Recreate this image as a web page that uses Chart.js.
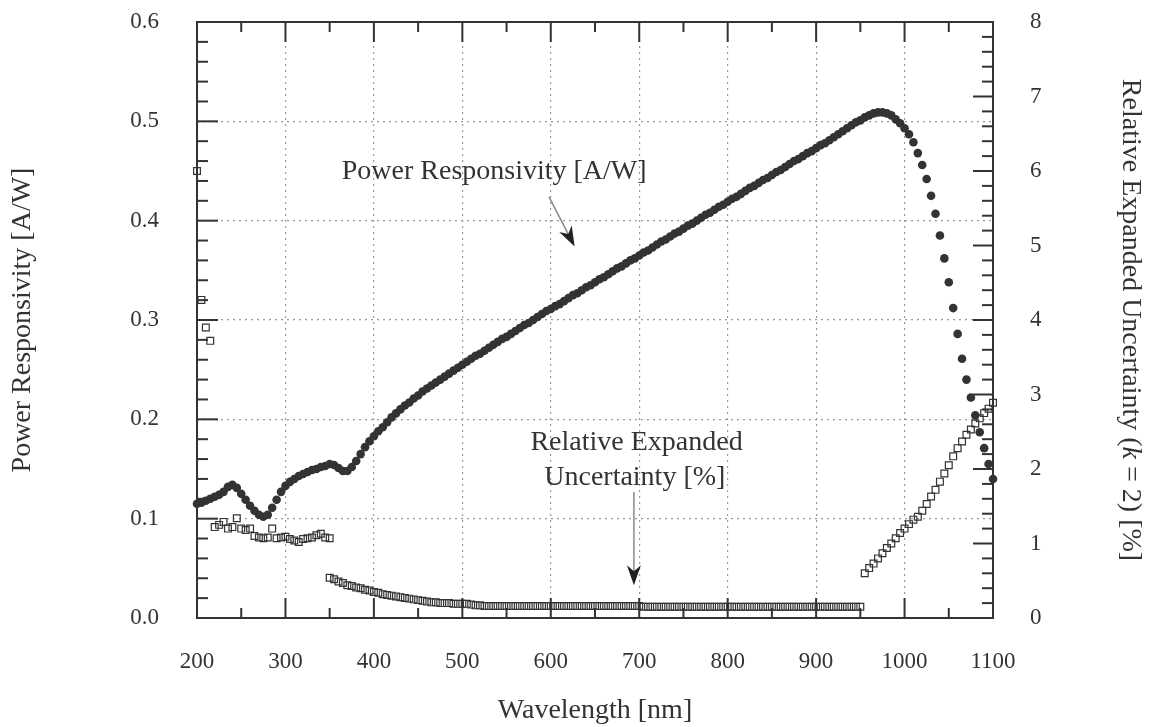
<!DOCTYPE html>
<html>
<head>
<meta charset="utf-8">
<script src="https://cdn.jsdelivr.net/npm/chart.js@4.4.1/dist/chart.umd.min.js"></script>
<style>
  html, body { margin: 0; padding: 0; background: #fff; }
  #wrap { width: 1155px; height: 727px; }
</style>
</head>
<body>
<div id="wrap"><canvas id="chart" width="1155" height="727"></canvas></div>
<script>
// wavelengths [nm] for the responsivity dots
const respWavelengths = [
  200, 205, 210, 215, 220, 225, 230, 235, 240, 245, 250, 255, 260, 265, 270, 275, 280, 285, 290, 295,
  300, 305, 310, 315, 320, 325, 330, 335, 340, 345, 350, 355, 360, 365, 370, 375, 380, 385, 390, 395,
  400, 405, 410, 415, 420, 425, 430, 435, 440, 445, 450, 455, 460, 465, 470, 475, 480, 485, 490, 495,
  500, 505, 510, 515, 520, 525, 530, 535, 540, 545, 550, 555, 560, 565, 570, 575, 580, 585, 590, 595,
  600, 605, 610, 615, 620, 625, 630, 635, 640, 645, 650, 655, 660, 665, 670, 675, 680, 685, 690, 695,
  700, 705, 710, 715, 720, 725, 730, 735, 740, 745, 750, 755, 760, 765, 770, 775, 780, 785, 790, 795,
  800, 805, 810, 815, 820, 825, 830, 835, 840, 845, 850, 855, 860, 865, 870, 875, 880, 885, 890, 895,
  900, 905, 910, 915, 920, 925, 930, 935, 940, 945, 950, 955, 960, 965, 970, 975, 980, 985, 990, 995,
  1000, 1005, 1010, 1015, 1020, 1025, 1030, 1035, 1040, 1045, 1050, 1055, 1060, 1065, 1070, 1075, 1080, 1085, 1090, 1095,
  1100
];
// power responsivity [A/W]
const responsivity = [
  0.115, 0.116, 0.118, 0.120, 0.122, 0.124, 0.127, 0.132, 0.134, 0.131, 0.125, 0.119, 0.113, 0.108, 0.104, 0.102, 0.104, 0.111, 0.119, 0.127,
  0.133, 0.137, 0.140, 0.143, 0.145, 0.147, 0.149, 0.150, 0.152, 0.153, 0.155, 0.154, 0.151, 0.148, 0.148, 0.152, 0.158, 0.165, 0.172, 0.178,
  0.183, 0.188, 0.192, 0.197, 0.202, 0.206, 0.210, 0.214, 0.217, 0.221, 0.224, 0.228, 0.231, 0.234, 0.237, 0.240, 0.243, 0.246, 0.249, 0.252,
  0.255, 0.258, 0.261, 0.264, 0.266, 0.269, 0.272, 0.275, 0.278, 0.281, 0.283, 0.286, 0.289, 0.292, 0.295, 0.297, 0.300, 0.303, 0.306, 0.309,
  0.311, 0.314, 0.316, 0.319, 0.322, 0.325, 0.327, 0.330, 0.333, 0.335, 0.338, 0.341, 0.343, 0.346, 0.349, 0.352, 0.354, 0.357, 0.360, 0.362,
  0.365, 0.368, 0.370, 0.373, 0.376, 0.379, 0.381, 0.384, 0.387, 0.389, 0.392, 0.395, 0.397, 0.400, 0.403, 0.406, 0.408, 0.411, 0.414, 0.416,
  0.419, 0.422, 0.424, 0.427, 0.430, 0.433, 0.435, 0.438, 0.441, 0.443, 0.446, 0.449, 0.451, 0.454, 0.457, 0.460, 0.462, 0.465, 0.468, 0.470,
  0.473, 0.476, 0.478, 0.481, 0.484, 0.487, 0.490, 0.493, 0.496, 0.499, 0.501, 0.504, 0.506, 0.508, 0.509, 0.509, 0.508, 0.506, 0.502, 0.498,
  0.493, 0.487, 0.479, 0.468, 0.456, 0.442, 0.425, 0.407, 0.385, 0.362, 0.338, 0.312, 0.286, 0.261, 0.240, 0.222, 0.204, 0.187, 0.171, 0.155,
  0.140
];

// wavelengths [nm] for the uncertainty squares (three overlapping ranges)
const uncWavelengths = [
  200, 205, 210, 215,
  220, 225, 230, 235, 240, 245, 250, 255, 260, 265, 270, 275, 280, 285, 290, 295, 300, 305, 310, 315, 320, 325, 330, 335, 340, 345, 350,
  350, 355, 360, 365, 370, 375, 380, 385, 390, 395, 400, 405, 410, 415, 420, 425, 430, 435, 440, 445,
  450, 455, 460, 465, 470, 475, 480, 485, 490, 495, 500, 505, 510, 515, 520, 525, 530, 535, 540, 545,
  550, 555, 560, 565, 570, 575, 580, 585, 590, 595, 600, 605, 610, 615, 620, 625, 630, 635, 640, 645,
  650, 655, 660, 665, 670, 675, 680, 685, 690, 695, 700, 705, 710, 715, 720, 725, 730, 735, 740, 745,
  750, 755, 760, 765, 770, 775, 780, 785, 790, 795, 800, 805, 810, 815, 820, 825, 830, 835, 840, 845,
  850, 855, 860, 865, 870, 875, 880, 885, 890, 895, 900, 905, 910, 915, 920, 925, 930, 935, 940, 945, 950,
  955, 960, 965, 970, 975, 980, 985, 990, 995, 1000, 1005, 1010, 1015, 1020, 1025,
  1030, 1035, 1040, 1045, 1050, 1055, 1060, 1065, 1070, 1075, 1080, 1085, 1090, 1095, 1100
];
// relative expanded uncertainty (k = 2) [%]
const uncertainty = [
  6.00, 4.27, 3.90, 3.72,
  1.22, 1.25, 1.29, 1.20, 1.22, 1.34, 1.20, 1.18, 1.20, 1.10, 1.08, 1.07, 1.08, 1.20, 1.07, 1.08, 1.09, 1.06, 1.04, 1.02, 1.06, 1.07, 1.08, 1.11, 1.13, 1.08, 1.07,
  0.54, 0.52, 0.49, 0.47, 0.44, 0.43, 0.41, 0.40, 0.38, 0.37, 0.35, 0.34, 0.32, 0.31, 0.30, 0.29, 0.28, 0.27, 0.26, 0.25,
  0.24, 0.23, 0.22, 0.21, 0.21, 0.20, 0.20, 0.20, 0.19, 0.19, 0.19, 0.19, 0.18, 0.17, 0.17, 0.16, 0.16, 0.16, 0.16, 0.16,
  0.16, 0.16, 0.16, 0.16, 0.16, 0.16, 0.16, 0.16, 0.16, 0.16, 0.16, 0.16, 0.16, 0.16, 0.16, 0.16, 0.16, 0.16, 0.16, 0.16,
  0.16, 0.16, 0.16, 0.16, 0.16, 0.16, 0.16, 0.16, 0.16, 0.16, 0.16, 0.15, 0.15, 0.15, 0.15, 0.15, 0.15, 0.15, 0.15, 0.15,
  0.15, 0.15, 0.15, 0.15, 0.15, 0.15, 0.15, 0.15, 0.15, 0.15, 0.15, 0.15, 0.15, 0.15, 0.15, 0.15, 0.15, 0.15, 0.15, 0.15,
  0.15, 0.15, 0.15, 0.15, 0.15, 0.15, 0.15, 0.15, 0.15, 0.15, 0.15, 0.15, 0.15, 0.15, 0.15, 0.15, 0.15, 0.15, 0.15, 0.15, 0.15,
  0.60, 0.67, 0.73, 0.80, 0.87, 0.94, 1.00, 1.07, 1.14, 1.20, 1.26, 1.32, 1.36, 1.44, 1.53,
  1.63, 1.72, 1.83, 1.94, 2.05, 2.17, 2.28, 2.37, 2.46, 2.53, 2.61, 2.68, 2.75, 2.81, 2.89
];

const xTickValues = [200, 300, 400, 500, 600, 700, 800, 900, 1000, 1100];
const leftTickLabels = ['0.0', '0.1', '0.2', '0.3', '0.4', '0.5', '0.6'];
const rightTickLabels = ['0', '1', '2', '3', '4', '5', '6', '7', '8'];

const SERIF = '"Liberation Serif", "Times New Roman", serif';
const INK = '#333';

function toPoints(xs, ys) {
  return xs.map((x, i) => ({ x: x, y: ys[i] }));
}

function strokeLine(ctx, x1, y1, x2, y2) {
  ctx.beginPath();
  ctx.moveTo(x1, y1);
  ctx.lineTo(x2, y2);
  ctx.stroke();
}

// stop Chart.js from reserving label overflow space above/below the vertical axes
function fixVertical(width) {
  return s => {
    s.width = width;
    s.paddingTop = 0;
    s.paddingBottom = 0;
  };
}

// frame plus inward major/minor ticks on all four sides
const frameTicks = {
  id: 'frameTicks',
  beforeDatasetsDraw(chart) {
    const { ctx, chartArea: a, scales } = chart;
    ctx.save();
    ctx.strokeStyle = INK;
    ctx.lineWidth = 2;
    ctx.strokeRect(a.left, a.top, a.right - a.left, a.bottom - a.top);

    for (let v = 200; v <= 1100; v += 50) {
      const px = scales.x.getPixelForValue(v);
      const len = v % 100 === 0 ? 20 : 10;
      strokeLine(ctx, px, a.bottom, px, a.bottom - len);
      strokeLine(ctx, px, a.top, px, a.top + len);
    }
    for (let i = 0; i <= 30; i++) {
      const py = scales.y.getPixelForValue(i * 0.02);
      const len = i % 5 === 0 ? 21 : 11;
      strokeLine(ctx, a.left, py, a.left + len, py);
    }
    for (let i = 0; i <= 40; i++) {
      const py = scales.y2.getPixelForValue(i * 0.2);
      const len = i % 5 === 0 ? 20 : 11;
      strokeLine(ctx, a.right, py, a.right - len, py);
    }
    ctx.restore();
  }
};

function drawArrow(ctx, x1, y1, x2, y2) {
  const ang = Math.atan2(y2 - y1, x2 - x1);
  const headLen = 20, headHalf = 7;
  ctx.strokeStyle = '#888';
  ctx.lineWidth = 1.5;
  strokeLine(ctx, x1, y1, x2 - Math.cos(ang) * 10, y2 - Math.sin(ang) * 10);
  ctx.save();
  ctx.translate(x2, y2);
  ctx.rotate(ang);
  ctx.fillStyle = '#222';
  ctx.beginPath();
  ctx.moveTo(0, 0);
  ctx.lineTo(-headLen, -headHalf);
  ctx.lineTo(-headLen * 0.7, 0);
  ctx.lineTo(-headLen, headHalf);
  ctx.closePath();
  ctx.fill();
  ctx.restore();
}

// text labels with arrows, placed in data units
const annotations = {
  id: 'annotations',
  afterDatasetsDraw(chart) {
    const { ctx, scales } = chart;
    const x = scales.x, y = scales.y, y2 = scales.y2;
    ctx.save();
    ctx.font = '28px ' + SERIF;
    ctx.fillStyle = INK;
    ctx.textAlign = 'center';
    ctx.textBaseline = 'middle';
    ctx.fillText('Power Responsivity [A/W]', x.getPixelForValue(536), y.getPixelForValue(0.449));
    drawArrow(ctx, x.getPixelForValue(598), y.getPixelForValue(0.424),
                   x.getPixelForValue(627), y.getPixelForValue(0.374));

    ctx.fillText('Relative Expanded', x.getPixelForValue(697), y2.getPixelForValue(2.36));
    ctx.fillText('Uncertainty [%]', x.getPixelForValue(695), y2.getPixelForValue(1.89));
    drawArrow(ctx, x.getPixelForValue(694), y2.getPixelForValue(1.69),
                   x.getPixelForValue(694), y2.getPixelForValue(0.44));
    ctx.restore();
  },
  afterDraw(chart) {
    // right axis title with italic k
    const { ctx, chartArea: a } = chart;
    const parts = [
      { t: 'Relative Expanded Uncertainty (', f: '28px ' + SERIF },
      { t: 'k', f: 'italic 28px ' + SERIF },
      { t: ' = 2) [%]', f: '28px ' + SERIF }
    ];
    let total = 0;
    parts.forEach(p => { ctx.font = p.f; p.w = ctx.measureText(p.t).width; total += p.w; });
    ctx.save();
    ctx.translate(1130, (a.top + a.bottom) / 2);
    ctx.rotate(Math.PI / 2);
    ctx.fillStyle = INK;
    ctx.textBaseline = 'middle';
    ctx.textAlign = 'left';
    let cx = -total / 2;
    parts.forEach(p => { ctx.font = p.f; ctx.fillText(p.t, cx, 0); cx += p.w; });
    ctx.restore();
  }
};

new Chart(document.getElementById('chart'), {
  type: 'scatter',
  data: {
    datasets: [
      {
        label: 'Relative Expanded Uncertainty [%]',
        data: toPoints(uncWavelengths, uncertainty),
        yAxisID: 'y2',
        pointStyle: 'rect',
        pointRadius: 4.8,
        borderColor: INK,
        borderWidth: 1.2,
        backgroundColor: 'rgba(255,255,255,0)',
        clip: false
      },
      {
        label: 'Power Responsivity [A/W]',
        data: toPoints(respWavelengths, responsivity),
        yAxisID: 'y',
        pointStyle: 'circle',
        pointRadius: 4.3,
        borderWidth: 0,
        backgroundColor: INK,
        clip: false
      }
    ]
  },
  options: {
    responsive: false,
    devicePixelRatio: 1,
    animation: false,
    layout: { padding: { top: 22, left: 0, right: 0, bottom: 0 } },
    plugins: { legend: { display: false }, tooltip: { enabled: false } },
    scales: {
      x: {
        type: 'linear',
        min: 200,
        max: 1100,
        afterBuildTicks: s => { s.ticks = xTickValues.map(v => ({ value: v })); },
        afterFit: s => { s.height = 109; },
        ticks: { color: INK, font: { family: SERIF, size: 23 }, padding: 30, maxRotation: 0,
                 callback: v => String(v) },
        grid: { color: '#999', lineWidth: 1.2, drawTicks: false },
        border: { display: false, dash: [2, 4] },
        title: { display: true, text: 'Wavelength [nm]', color: INK, font: { family: SERIF, size: 28 }, padding: { top: 0, bottom: 0 } }
      },
      y: {
        position: 'left',
        min: 0,
        max: 0.6,
        afterBuildTicks: s => { s.ticks = leftTickLabels.map(t => ({ value: parseFloat(t) })); },
        afterFit: fixVertical(197),
        ticks: { color: INK, font: { family: SERIF, size: 23 }, padding: 38,
                 callback: (v, i) => leftTickLabels[i] },
        grid: { color: '#999', lineWidth: 1.2, drawTicks: false },
        border: { display: false, dash: [2, 4] },
        title: { display: true, text: 'Power Responsivity [A/W]', color: INK, font: { family: SERIF, size: 28 }, padding: { top: 6, bottom: 0 } }
      },
      y2: {
        position: 'right',
        min: 0,
        max: 8,
        afterBuildTicks: s => { s.ticks = rightTickLabels.map(t => ({ value: parseFloat(t) })); },
        afterFit: fixVertical(162),
        ticks: { color: INK, font: { family: SERIF, size: 23 }, padding: 37,
                 callback: (v, i) => rightTickLabels[i] },
        grid: { drawOnChartArea: false, drawTicks: false },
        border: { display: false }
      }
    }
  },
  plugins: [frameTicks, annotations]
});
</script>
</body>
</html>
